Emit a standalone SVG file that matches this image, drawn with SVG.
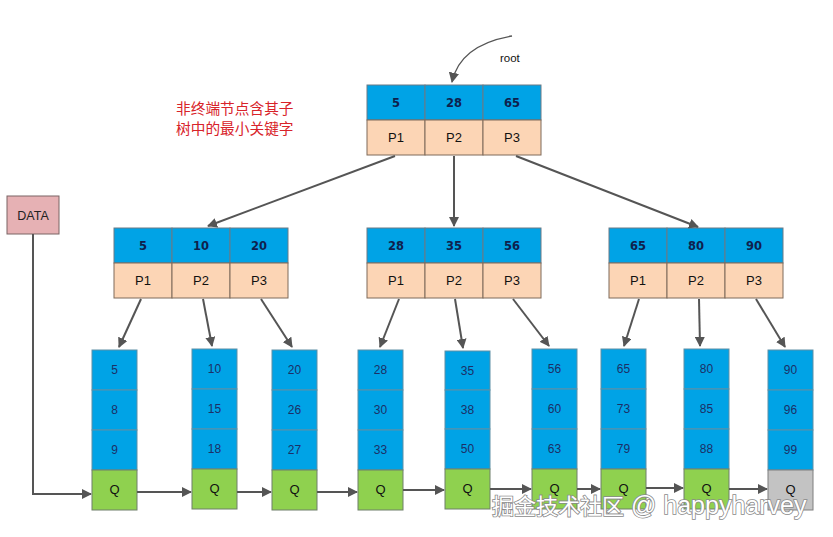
<svg xmlns="http://www.w3.org/2000/svg" width="833" height="537" viewBox="0 0 833 537">
<defs>
<style>
.bg{fill:#ffffff}
.key{fill:#00a3e6;stroke:#6b7b86;stroke-width:1}
.ptr{fill:#fcd5b5;stroke:#7f6a5a;stroke-width:1}
.leaf{fill:#00a3e6;stroke:#5f8fa6;stroke-width:1}
.q{fill:#8fd14f;stroke:#6f7f6a;stroke-width:1}
.qg{fill:#c3c3c3;stroke:#7f7f7f;stroke-width:1}
.data{fill:#e6b1b4;stroke:#7a6565;stroke-width:1}
.kt{font-family:"DejaVu Sans",sans-serif;font-weight:bold;font-size:11.5px;fill:#0f1f4d;text-anchor:middle}
.pt{font-family:"Liberation Sans",Arial,sans-serif;font-size:13px;fill:#111;text-anchor:middle}
.lt{font-family:"Liberation Sans",Arial,sans-serif;font-size:12px;fill:#1c2f66;text-anchor:middle}
.qt{font-family:"Liberation Sans",Arial,sans-serif;font-size:13px;fill:#111;text-anchor:middle}
.note{font-family:"Noto Sans CJK SC","Noto Sans",sans-serif;font-size:14.7px;fill:#d8232a}
.wm{font-family:"Liberation Sans","Noto Sans CJK SC",sans-serif;font-size:22px;fill:#ffffff;stroke:#8a8a8a;stroke-width:1.6;paint-order:stroke}
.c{stroke:#555555;stroke-width:2;fill:none;marker-end:url(#ah)}
</style>
<marker id="ah" viewBox="0 0 10 10" refX="9" refY="5" markerWidth="5" markerHeight="5" orient="auto" markerUnits="strokeWidth">
<path d="M0,0 L10,5 L0,10 z" fill="#555555"/>
</marker>
<marker id="ah2" viewBox="0 0 10 10" refX="9" refY="5" markerWidth="8" markerHeight="8" orient="auto" markerUnits="strokeWidth">
<path d="M0,0 L10,5 L0,10 z" fill="#555555"/>
</marker>
</defs>
<rect class="bg" x="0" y="0" width="833" height="537"/>

<g id="root-label">
<text x="500" y="62" font-family="Liberation Sans,Arial,sans-serif" font-size="11.5px" fill="#111">root</text>
</g>

<g id="note">
<text class="note" x="176" y="114">非终端节点含其子</text>
<text class="note" x="176" y="134">树中的最小关键字</text>
</g>

<g id="node-root">
<rect class="key" x="367" y="85" width="58" height="35"/>
<rect class="key" x="425" y="85" width="58" height="35"/>
<rect class="key" x="483" y="85" width="58" height="35"/>
<rect class="ptr" x="367" y="120" width="58" height="35"/>
<rect class="ptr" x="425" y="120" width="58" height="35"/>
<rect class="ptr" x="483" y="120" width="58" height="35"/>
<text class="kt" x="396" y="107">5</text>
<text class="kt" x="454" y="107">28</text>
<text class="kt" x="512" y="107">65</text>
<text class="pt" x="396" y="142">P1</text>
<text class="pt" x="454" y="142">P2</text>
<text class="pt" x="512" y="142">P3</text>
</g>

<g id="node-l">
<rect class="key" x="114" y="228" width="58" height="35"/>
<rect class="key" x="172" y="228" width="58" height="35"/>
<rect class="key" x="230" y="228" width="58" height="35"/>
<rect class="ptr" x="114" y="263" width="58" height="35"/>
<rect class="ptr" x="172" y="263" width="58" height="35"/>
<rect class="ptr" x="230" y="263" width="58" height="35"/>
<text class="kt" x="143" y="250">5</text>
<text class="kt" x="201" y="250">10</text>
<text class="kt" x="259" y="250">20</text>
<text class="pt" x="143" y="285">P1</text>
<text class="pt" x="201" y="285">P2</text>
<text class="pt" x="259" y="285">P3</text>
</g>

<g id="node-m">
<rect class="key" x="367" y="228" width="58" height="35"/>
<rect class="key" x="425" y="228" width="58" height="35"/>
<rect class="key" x="483" y="228" width="58" height="35"/>
<rect class="ptr" x="367" y="263" width="58" height="35"/>
<rect class="ptr" x="425" y="263" width="58" height="35"/>
<rect class="ptr" x="483" y="263" width="58" height="35"/>
<text class="kt" x="396" y="250">28</text>
<text class="kt" x="454" y="250">35</text>
<text class="kt" x="512" y="250">56</text>
<text class="pt" x="396" y="285">P1</text>
<text class="pt" x="454" y="285">P2</text>
<text class="pt" x="512" y="285">P3</text>
</g>

<g id="node-r">
<rect class="key" x="609" y="228" width="58" height="35"/>
<rect class="key" x="667" y="228" width="58" height="35"/>
<rect class="key" x="725" y="228" width="58" height="35"/>
<rect class="ptr" x="609" y="263" width="58" height="35"/>
<rect class="ptr" x="667" y="263" width="58" height="35"/>
<rect class="ptr" x="725" y="263" width="58" height="35"/>
<text class="kt" x="638" y="250">65</text>
<text class="kt" x="696" y="250">80</text>
<text class="kt" x="754" y="250">90</text>
<text class="pt" x="638" y="285">P1</text>
<text class="pt" x="696" y="285">P2</text>
<text class="pt" x="754" y="285">P3</text>
</g>

<g id="data">
<rect class="data" x="7" y="196" width="52" height="38"/>
<text x="33" y="219.5" font-family="Liberation Sans,Arial,sans-serif" font-size="12.5px" fill="#222" text-anchor="middle">DATA</text>
</g>

<g id="leaf1">
<rect class="leaf" x="92" y="350" width="45" height="40"/><rect class="leaf" x="92" y="390" width="45" height="40"/><rect class="leaf" x="92" y="430" width="45" height="40"/><rect class="q" x="92" y="470" width="45" height="40"/>
<text class="lt" x="114.5" y="374">5</text><text class="lt" x="114.5" y="414">8</text><text class="lt" x="114.5" y="454">9</text><text class="qt" x="114.5" y="494">Q</text>
</g>
<g id="leaf2">
<rect class="leaf" x="192" y="349" width="45" height="40"/><rect class="leaf" x="192" y="389" width="45" height="40"/><rect class="leaf" x="192" y="429" width="45" height="40"/><rect class="q" x="192" y="469" width="45" height="40"/>
<text class="lt" x="214.5" y="373">10</text><text class="lt" x="214.5" y="413">15</text><text class="lt" x="214.5" y="453">18</text><text class="qt" x="214.5" y="493">Q</text>
</g>
<g id="leaf3">
<rect class="leaf" x="272" y="350" width="45" height="40"/><rect class="leaf" x="272" y="390" width="45" height="40"/><rect class="leaf" x="272" y="430" width="45" height="40"/><rect class="q" x="272" y="470" width="45" height="40"/>
<text class="lt" x="294.5" y="374">20</text><text class="lt" x="294.5" y="414">26</text><text class="lt" x="294.5" y="454">27</text><text class="qt" x="294.5" y="494">Q</text>
</g>
<g id="leaf4">
<rect class="leaf" x="358" y="350" width="45" height="40"/><rect class="leaf" x="358" y="390" width="45" height="40"/><rect class="leaf" x="358" y="430" width="45" height="40"/><rect class="q" x="358" y="470" width="45" height="40"/>
<text class="lt" x="380.5" y="374">28</text><text class="lt" x="380.5" y="414">30</text><text class="lt" x="380.5" y="454">33</text><text class="qt" x="380.5" y="494">Q</text>
</g>
<g id="leaf5">
<rect class="leaf" x="445" y="351" width="45" height="39"/><rect class="leaf" x="445" y="390" width="45" height="39"/><rect class="leaf" x="445" y="429" width="45" height="40"/><rect class="q" x="445" y="469" width="45" height="40"/>
<text class="lt" x="467.5" y="375">35</text><text class="lt" x="467.5" y="414">38</text><text class="lt" x="467.5" y="453">50</text><text class="qt" x="467.5" y="493">Q</text>
</g>
<g id="leaf6">
<rect class="leaf" x="532" y="349" width="45" height="40"/><rect class="leaf" x="532" y="389" width="45" height="40"/><rect class="leaf" x="532" y="429" width="45" height="40"/><rect class="q" x="532" y="469" width="45" height="40"/>
<text class="lt" x="554.5" y="373">56</text><text class="lt" x="554.5" y="413">60</text><text class="lt" x="554.5" y="453">63</text><text class="qt" x="554.5" y="493">Q</text>
</g>
<g id="leaf7">
<rect class="leaf" x="601" y="349" width="45" height="40"/><rect class="leaf" x="601" y="389" width="45" height="40"/><rect class="leaf" x="601" y="429" width="45" height="40"/><rect class="q" x="601" y="469" width="45" height="40"/>
<text class="lt" x="623.5" y="373">65</text><text class="lt" x="623.5" y="413">73</text><text class="lt" x="623.5" y="453">79</text><text class="qt" x="623.5" y="493">Q</text>
</g>
<g id="leaf8">
<rect class="leaf" x="684" y="349" width="45" height="40"/><rect class="leaf" x="684" y="389" width="45" height="40"/><rect class="leaf" x="684" y="429" width="45" height="40"/><rect class="q" x="684" y="469" width="45" height="40"/>
<text class="lt" x="706.5" y="373">80</text><text class="lt" x="706.5" y="413">85</text><text class="lt" x="706.5" y="453">88</text><text class="qt" x="706.5" y="493">Q</text>
</g>
<g id="leaf9">
<rect class="leaf" x="768" y="350" width="45" height="40"/><rect class="leaf" x="768" y="390" width="45" height="40"/><rect class="leaf" x="768" y="430" width="45" height="40"/><rect class="qg" x="768" y="470" width="45" height="40"/>
<text class="lt" x="790.5" y="374">90</text><text class="lt" x="790.5" y="414">96</text><text class="lt" x="790.5" y="454">99</text><text class="qt" x="790.5" y="494">Q</text>
</g>

<g id="connectors">
<path d="M512,36 Q460,45 452,82" stroke="#555555" stroke-width="1.3" fill="none" marker-end="url(#ah2)"/>
<line class="c" x1="395" y1="156" x2="208" y2="226"/>
<line class="c" x1="454" y1="156" x2="454" y2="226"/>
<line class="c" x1="516" y1="156" x2="698" y2="227"/>
<line class="c" x1="141" y1="299" x2="119" y2="347"/>
<line class="c" x1="203" y1="299" x2="212" y2="346"/>
<line class="c" x1="261" y1="299" x2="292" y2="347"/>
<line class="c" x1="399" y1="299" x2="380" y2="347"/>
<line class="c" x1="455" y1="299" x2="463" y2="348"/>
<line class="c" x1="513" y1="299" x2="549" y2="346"/>
<line class="c" x1="639" y1="299" x2="624" y2="346"/>
<line class="c" x1="699" y1="299" x2="700" y2="346"/>
<line class="c" x1="756" y1="299" x2="785" y2="347"/>
<polyline class="c" points="33,234 33,494 91,494"/>
<line class="c" x1="137" y1="492" x2="191" y2="492"/>
<line class="c" x1="237" y1="492" x2="271" y2="492"/>
<line class="c" x1="317" y1="492" x2="357" y2="492"/>
<line class="c" x1="403" y1="490" x2="444" y2="490"/>
<line class="c" x1="490" y1="489" x2="531" y2="489"/>
<line class="c" x1="577" y1="489" x2="600" y2="489"/>
<line class="c" x1="646" y1="488" x2="683" y2="488"/>
<line class="c" x1="729" y1="489" x2="767" y2="489"/>
</g>

<g id="watermark">
<text class="wm" x="492" y="514">掘金技术社区<tspan font-size="25px"> @ happyharvey</tspan></text>
</g>
</svg>
